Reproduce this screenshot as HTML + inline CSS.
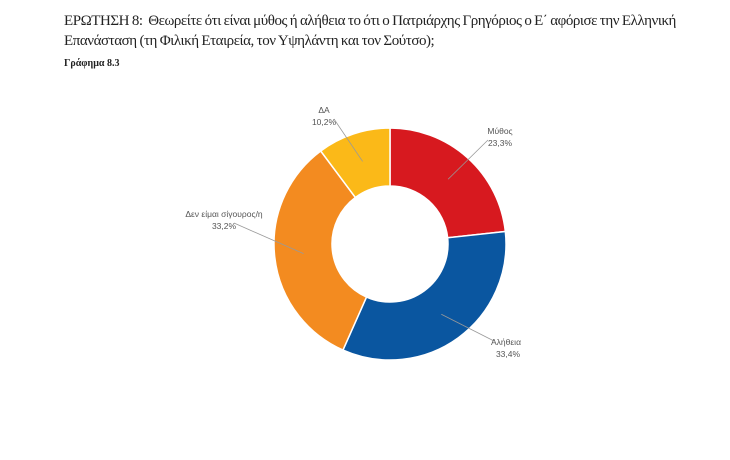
<!DOCTYPE html>
<html><head><meta charset="utf-8">
<style>
body{margin:0;background:#fff;width:730px;height:460px;overflow:hidden;font-family:"Liberation Sans","DejaVu Sans",sans-serif;}
#title{position:absolute;left:64px;top:11px;width:670px;font-family:"Liberation Serif","DejaVu Serif",serif;font-size:15px;line-height:20px;color:#222;letter-spacing:-0.45px;word-spacing:-0.5px}
#sub{position:absolute;left:64px;top:58px;font-family:"Liberation Serif",serif;font-weight:bold;font-size:10px;color:#222}
svg{position:absolute;left:0;top:0}
</style></head><body>
<div id="title">ΕΡΩΤΗΣΗ 8:&nbsp; Θεωρείτε ότι είναι μύθος ή αλήθεια το ότι ο Πατριάρχης Γρηγόριος ο Ε΄ αφόρισε την Ελληνική<br>Επανάσταση (τη Φιλική Εταιρεία, τον Υψηλάντη και τον Σούτσο);</div>
<div id="sub">Γράφημα 8.3</div>
<svg id="chart" width="730" height="460"></svg>
<script>
const categories=["Μύθος","Αλήθεια","Δεν είμαι σίγουρος/η","ΔΑ"];
const values=[23.3,33.4,33.2,10.2];
const valueLabels=["23,3%","33,4%","33,2%","10,2%"];
const colors=["#d7191f","#0a56a0","#f38b20","#fbb918"];
const NS="http://www.w3.org/2000/svg";
const svg=document.getElementById('chart');
const cx=390,cy=244,R=116,r=58;
const total=values.reduce((a,b)=>a+b,0);
function pt(a,rad){return [cx+rad*Math.sin(a),cy-rad*Math.cos(a)];}
let acc=0;
const labelPos=[[500,134,'middle'],[506,345,'middle'],[224,217,'middle'],[324,113,'middle']];
values.forEach((v,i)=>{
  const a0=acc/total*2*Math.PI; acc+=v; const a1=acc/total*2*Math.PI;
  const large=(a1-a0)>Math.PI?1:0;
  const [x0,y0]=pt(a0,R),[x1,y1]=pt(a1,R),[x2,y2]=pt(a1,r),[x3,y3]=pt(a0,r);
  const p=document.createElementNS(NS,'path');
  p.setAttribute('d',`M${x0},${y0}A${R},${R} 0 ${large} 1 ${x1},${y1}L${x2},${y2}A${r},${r} 0 ${large} 0 ${x3},${y3}Z`);
  p.setAttribute('fill',colors[i]);p.setAttribute('stroke','#fff');p.setAttribute('stroke-width','1.5');
  
  
  svg.appendChild(p);
  const am=(a0+a1)/2;
  const [mx,my]=pt(am,(R+r)/2);
  const lp=labelPos[i];
  const lx=lp[0]+(lp[0]<cx?10:-12), ly=lp[1]+(i==1?-4:6);
  const ln=document.createElementNS(NS,'polyline');
  ln.setAttribute('points',`${mx},${my} ${lx},${ly}`);
  ln.setAttribute('fill','none');ln.setAttribute('stroke','#999');ln.setAttribute('stroke-width','0.8');
  
  
  svg.appendChild(ln);
  [categories[i],valueLabels[i]].forEach((s,k)=>{
    const t=document.createElementNS(NS,'text');
    t.setAttribute('x',lp[0]+(k&&i==1?2:0));t.setAttribute('y',lp[1]+k*12);
    t.setAttribute('text-anchor',lp[2]);t.setAttribute('font-size','8.5');t.setAttribute('fill','#555');
    t.setAttribute('font-family','Liberation Sans, DejaVu Sans, sans-serif');
    t.textContent=s;
    
    
    svg.appendChild(t);
  });
});
</script>
</body></html>
